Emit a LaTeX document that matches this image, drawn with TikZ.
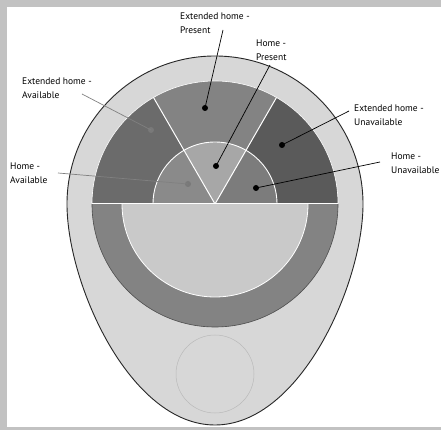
\documentclass[tikz,border=0pt]{standalone}
\usepackage{fontspec}
\setsansfont{PT Sans}
\usetikzlibrary{calc, positioning}

\definecolor{frameGray}{HTML}{C2C2C2}
\definecolor{eggGray}{HTML}{D7D7D7}
\definecolor{extAvail}{HTML}{6B6B6B}
\definecolor{extPres}{HTML}{838383}
\definecolor{extUnav}{HTML}{5A5A5A}
\definecolor{homeAvail}{HTML}{8A8A8A}
\definecolor{homePres}{HTML}{A7A7A7}
\definecolor{homeUnav}{HTML}{7C7C7C}
\definecolor{ringGray}{HTML}{838383}
\definecolor{capGray}{HTML}{C9C9C9}

\tikzset{
  lbl/.style={anchor=north west, align=left, inner sep=0pt, text=black,
    font=\sffamily\fontsize{9.5}{13.5}\selectfont},
  dot/.style={circle, fill=black, inner sep=0pt, minimum size=6pt},
  greydot/.style={dot, fill=gray!95!black},
  lead/.style={line width=0.7pt, black},
  greylead/.style={line width=0.7pt, gray},
}

\begin{document}
\begin{tikzpicture}[x=1pt, y=1pt]
  \def\R{148}
  \def\rout{123}
  \def\rin{62}
  \def\rlow{93}

  \useasboundingbox (-215,-226) rectangle (226,204);
  \fill[frameGray] (-215,-226) rectangle (226,204);
  \fill[white] (-208,-223) rectangle (226,197);

  % body of the device
  \fill[eggGray] (-\R,0) arc (180:0:\R)
    .. controls (\R,-80) and (85,-221) .. (0,-221)
    .. controls (-85,-221) and (-\R,-80) .. (-\R,0) -- cycle;

  % upper half: outer sectors
  \fill[extUnav] (0,0) -- (0:\rout) arc (0:60:\rout) -- cycle;
  \fill[extPres] (0,0) -- (60:\rout) arc (60:120:\rout) -- cycle;
  \fill[extAvail] (0,0) -- (120:\rout) arc (120:180:\rout) -- cycle;
  \draw[white, line width=0.6pt] (0:\rout) arc (0:180:\rout);

  % upper half: inner sectors
  \fill[homeUnav] (0,0) -- (0:\rin) arc (0:60:\rin) -- cycle;
  \fill[homePres] (0,0) -- (60:\rin) arc (60:120:\rin) -- cycle;
  \fill[homeAvail] (0,0) -- (120:\rin) arc (120:180:\rin) -- cycle;
  \draw[white, line width=0.9pt] (0:\rin) arc (0:180:\rin);
  \draw[white, line width=1pt] (0,0) -- (60:\rout) (0,0) -- (120:\rout);

  % lower half
  \fill[ringGray] (-\rout,0) arc (180:360:\rout) -- cycle;
  \draw[black!70, line width=0.6pt] (-\rout,0) arc (180:360:\rout);
  \fill[capGray] (-\rlow,0) arc (180:360:\rlow) -- cycle;
  \draw[white, line width=0.8pt] (-\rlow,0) arc (180:360:\rlow);
  \draw[white, line width=1pt] (-\rout,0) -- (\rout,0);

  % button
  \draw[gray!55, line width=0.5pt] (0,-170) circle (39);

  \draw[black!85, line width=0.9pt] (-\R,0) arc (180:0:\R)
    .. controls (\R,-80) and (85,-221) .. (0,-221)
    .. controls (-85,-221) and (-\R,-80) .. (-\R,0);

  % labels
  \node[lbl] (lblExtPres) at (-35,191) {Extended home -\\Present};
  \node[lbl] (lblHomePres) at (41,164) {Home -\\Present};
  \node[lbl] (lblExtAvail) at (-193,126) {Extended home -\\Available};
  \node[lbl] (lblHomeAvail) at (-205,41) {Home -\\Available};
  \node[lbl] (lblExtUnav) at (139,99) {Extended home -\\Unavailable};
  \node[lbl] (lblHomeUnav) at (176,51) {Home -\\Unavailable};

  % markers
  \node[dot] (dExtPres) at (-10,96) {};
  \node[dot] (dHomePres) at (1,38) {};
  \node[greydot] (dExtAvail) at (-64,74) {};
  \node[greydot] (dHomeAvail) at (-27,20) {};
  \node[dot] (dExtUnav) at (67,59) {};
  \node[dot] (dHomeUnav) at (41,16) {};

  \coordinate (tExtPres) at (8,174);
  \coordinate (tHomePres) at (55,139);
  \coordinate (tExtAvail) at (-133,110);
  \coordinate (tHomeAvail) at (-157,31);
  \coordinate (tExtUnav) at (134,93);
  \coordinate (tHomeUnav) at (165,42);

  \draw[lead] (tExtPres) -- (dExtPres.center);
  \draw[lead] (tHomePres) -- (dHomePres.center);
  \draw[greylead] (tExtAvail) -- (dExtAvail.center);
  \draw[greylead] (tHomeAvail) -- (dHomeAvail.center);
  \draw[lead] (tExtUnav) -- (dExtUnav.center);
  \draw[lead] (tHomeUnav) -- (dHomeUnav.center);
\end{tikzpicture}
\end{document}
